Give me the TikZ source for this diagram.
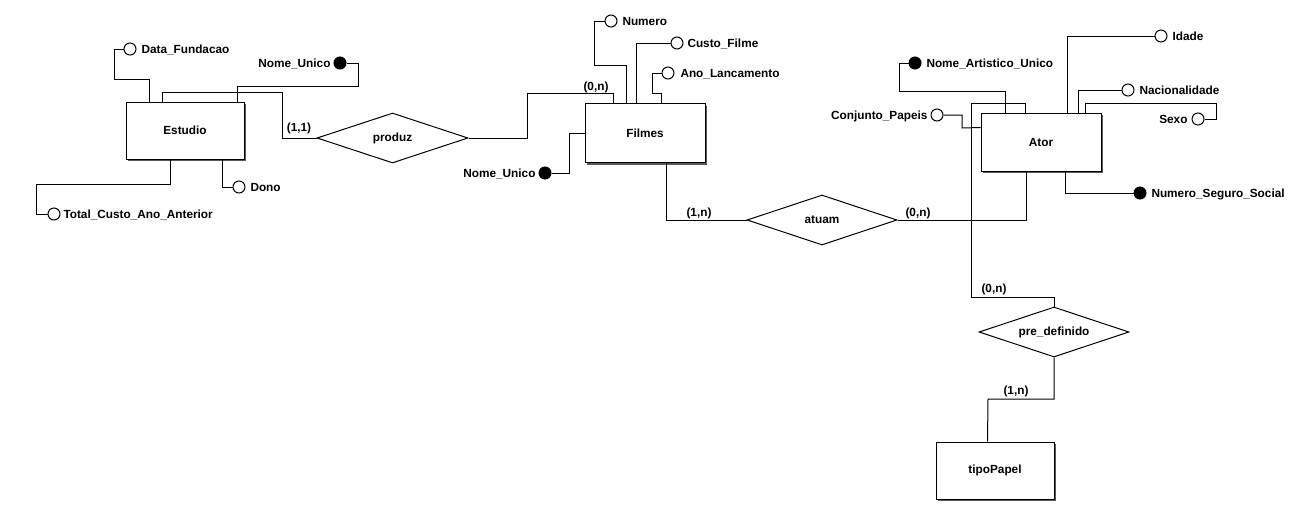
\documentclass[tikz,border=0pt]{standalone}
\usepackage{fontspec}
\setmainfont{Liberation Sans}
\usetikzlibrary{shapes.geometric,shadows}
\begin{document}
\begin{tikzpicture}[x=1pt,y=-1pt,line width=1pt,
  every node/.style={font=\fontsize{11.8}{13}\selectfont\bfseries},
  entity/.style={draw,fill=white,rectangle,inner sep=0,minimum width=118pt,minimum height=57pt,
     drop shadow={shadow xshift=2pt,shadow yshift=-2pt,fill=black!65,opacity=1}},
  rel/.style={draw,fill=white,diamond,aspect=4,inner sep=0,minimum width=150pt,minimum height=50pt},
  attr/.style={draw,circle,inner sep=0,minimum size=12pt,fill=white},
  keyattr/.style={draw,circle,inner sep=0,minimum size=12pt,fill=black},
  lbl/.style={inner sep=0},
  card/.style={inner sep=0,anchor=base}]
\fill[white] (0,0) rectangle (1295,504);
\useasboundingbox (0,0) rectangle (1295,504);

% entities
\node[entity] (E) at (185,130.5) {Estudio};
\node[entity,minimum width=120pt,minimum height=59pt] (F) at (645,133) {Filmes};
\node[entity,minimum width=120pt,minimum height=58pt] (A) at (1041,142) {Ator};
\node[entity] (T) at (995,470.5) {tipoPapel};

% relationships
\node[rel,minimum width=151pt] (produz) at (392.5,138) {produz};
\node[rel] (atuam) at (822,220) {atuam};
\node[rel] (pre) at (1054,332) {pre\_definido};

% attributes of Estudio
\node[attr] (df) at (130,49) {};
\node[lbl,anchor=base west] (tdf) at (141,53) {Data\_Fundacao};
\node[keyattr] (nuE) at (340,63) {};
\node[lbl,anchor=base east] (tnuE) at (331,67) {Nome\_Unico};
\node[attr] (tc) at (54,214) {};
\node[lbl,anchor=base west] (ttc) at (63,218) {Total\_Custo\_Ano\_Anterior};
\node[attr] (dono) at (239,187) {};
\node[lbl,anchor=base west] (tdono) at (250,191) {Dono};

% attributes of Filmes
\node[attr] (num) at (611,21) {};
\node[lbl,anchor=base west] (tnum) at (622,25) {Numero};
\node[attr] (cf) at (677,43) {};
\node[lbl,anchor=base west] (tcf) at (687,47) {Custo\_Filme};
\node[attr] (al) at (668,73) {};
\node[lbl,anchor=base west] (tal) at (680,77) {Ano\_Lancamento};
\node[keyattr] (nuF) at (545,173) {};
\node[lbl,anchor=base east] (tnuF) at (536,177) {Nome\_Unico};

% attributes of Ator
\node[attr] (id) at (1161,36) {};
\node[lbl,anchor=base west] (tid) at (1172,40) {Idade};
\node[keyattr] (nau) at (915,63) {};
\node[lbl,anchor=base west] (tnau) at (926,67) {Nome\_Artistico\_Unico};
\node[attr] (cp) at (937,115) {};
\node[lbl,anchor=base east] (tcp) at (928,119) {Conjunto\_Papeis};
\node[attr] (nac) at (1128,90) {};
\node[lbl,anchor=base west] (tnac) at (1139,94) {Nacionalidade};
\node[attr] (sx) at (1198,119) {};
\node[lbl,anchor=base east] (tsx) at (1188,123) {Sexo};
\node[keyattr] (nss) at (1140,193) {};
\node[lbl,anchor=base west] (tnss) at (1151,197) {Numero\_Seguro\_Social};

% cardinalities
\node[card] (c11) at (299,131) {(1,1)};
\node[card] (c0nF) at (596,90) {(0,n)};
\node[card] (c1nA) at (699,216) {(1,n)};
\node[card] (c0nA) at (918,216) {(0,n)};
\node[card] (c0nP) at (994,292) {(0,n)};
\node[card] (c1nP) at (1016,394) {(1,n)};

% connectors Estudio
\draw (df.west) -| (114,79) -| ([xshift=24pt]E.north west);
\draw (nuE.east) -| (358,86) -| ([xshift=112pt]E.north west);
\draw ([xshift=37pt]E.north west) |- (282,92) |- (produz.west);
\draw ([xshift=45pt]E.south west) |- (36,184) |- (tc.west);
\draw ([xshift=97pt]E.south west) |- (dono.west);

% connectors Filmes
\draw (produz.east) -| (527,93.5) -| ([xshift=29pt]F.north west);
\draw (num.west) -| (594,65) -| ([xshift=42pt]F.north west);
\draw (cf.west) -| ([xshift=52pt]F.north west);
\draw (al.west) -| (652,93) -| ([xshift=77pt]F.north west);
\draw (nuF.east) -| (569,133) -- (F.west);
\draw ([xshift=82pt]F.south west) |- (atuam.west);

% connectors Ator
\draw (atuam.east) -| ([xshift=46pt]A.south west);
\draw (nau.west) -| (899,91) -| ([xshift=25pt]A.north west);
\draw ([xshift=45pt]A.north west) |- (971,103) |- (1054,297) -- (pre.north);
\draw (cp.east) -| (962,128) -- ([yshift=-15pt]A.north west);
\draw (id.west) -| ([xshift=87pt]A.north west);
\draw (nac.west) -| ([xshift=98pt]A.north west);
\draw (sx.east) -| (1216,103) -| ([xshift=105pt]A.north west);
\draw ([xshift=85pt]A.south west) |- (nss.west);

% pre_definido to tipoPapel
\draw (pre.south) |- (988,399) -- ([xshift=52pt]T.north west);
\end{tikzpicture}
\end{document}
